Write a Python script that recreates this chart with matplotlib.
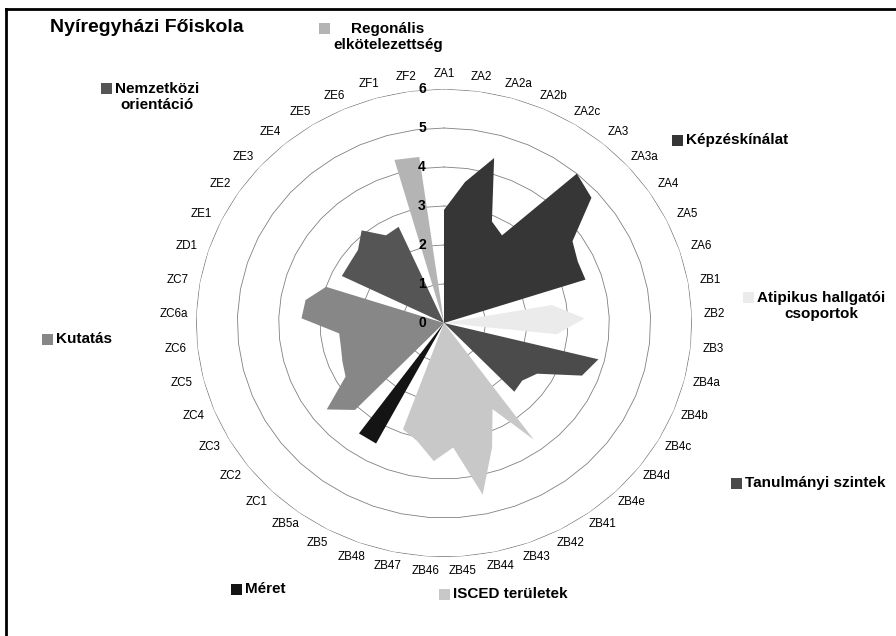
import numpy as np
import matplotlib.pyplot as plt
from matplotlib.patches import Rectangle
from matplotlib.lines import Line2D
from matplotlib import transforms

plt.rcParams['font.family'] = ['Liberation Sans', 'DejaVu Sans']

categories = ['ZA1', 'ZA2', 'ZA2a', 'ZA2b', 'ZA2c', 'ZA3', 'ZA3a', 'ZA4', 'ZA5', 'ZA6',
              'ZB1', 'ZB2', 'ZB3', 'ZB4a', 'ZB4b', 'ZB4c', 'ZB4d', 'ZB4e',
              'ZB41', 'ZB42', 'ZB43', 'ZB44', 'ZB45', 'ZB46', 'ZB47', 'ZB48',
              'ZB5', 'ZB5a', 'ZC1', 'ZC2', 'ZC3', 'ZC4', 'ZC5', 'ZC6', 'ZC6a', 'ZC7',
              'ZD1', 'ZE1', 'ZE2', 'ZE3', 'ZE4', 'ZE5', 'ZE6', 'ZF1', 'ZF2']

# values of each group, starting at the named category
kepzes = [2.9, 3.65, 4.4, 2.85, 2.65, 5.0, 4.8, 3.75, 3.6, 3.6]      # ZA1..ZA6
atipikus = [2.65, 3.4, 2.75]                                        # ZB1..ZB3
tanulmanyi = [3.85, 3.6, 2.6, 2.4, 2.45]                            # ZB4a..ZB4e
isced = [3.7, 2.5, 3.4, 4.5, 3.2, 3.55, 3.1, 2.9]                   # ZB41..ZB48
meret = [3.5, 3.5]                                                  # ZB5, ZB5a
kutatas = [3.1, 3.6, 2.75, 2.65, 2.57, 2.55, 3.45, 3.4, 3.0]        # ZC1..ZD1
nemzetkozi = [2.75, 2.75, 2.8, 3.1, 2.65, 2.7]                      # ZE1..ZE6
regionalis = [4.35, 4.3]                                            # ZF1, ZF2

series = [
    ('Képzéskínálat', 'ZA1', kepzes, '#363636'),
    ('Atipikus hallgatói\ncsoportok', 'ZB1', atipikus, '#ebebeb'),
    ('Tanulmányi szintek', 'ZB4a', tanulmanyi, '#4b4b4b'),
    ('ISCED területek', 'ZB41', isced, '#c8c8c8'),
    ('Méret', 'ZB5', meret, '#141414'),
    ('Kutatás', 'ZC1', kutatas, '#878787'),
    ('Nemzetközi\norientáció', 'ZE1', nemzetkozi, '#555555'),
    ('Regonális\nelkötelezettség', 'ZF1', regionalis, '#b4b4b4'),
]

W, H = 896, 636
fig = plt.figure(figsize=(W / 100, H / 100), dpi=100)

def fx(x):
    return x / W

def fy(y):
    return 1 - y / H

# polar plot, slightly wider than tall like the original
cx, cy, rx, ry = 444, 323, 248, 234
ax = fig.add_axes([fx(cx - rx), fy(cy + ry), 2 * rx / W, 2 * ry / H], projection='polar')
ax.set_aspect('auto')
ax.set_theta_zero_location('N')
ax.set_theta_direction(-1)
ax.set_ylim(0, 6)
ax.grid(False)
ax.spines['polar'].set_visible(False)
ax.set_xticks([])
ax.set_yticks([])
ax.patch.set_alpha(0)

n = len(categories)
theta = np.arange(n) * 2 * np.pi / n
theta_c = np.append(theta, theta[0])

for k in range(1, 7):
    ax.plot(theta_c, [k] * (n + 1), color='#808080', lw=0.6, zorder=1)

for name, start, vals, col in series:
    full = np.zeros(n)
    i0 = categories.index(start)
    full[i0:i0 + len(vals)] = vals
    ax.fill(theta_c, np.append(full, full[0]), color=col, lw=0, zorder=2)

# radial axis labels
off = transforms.offset_copy(ax.transData, fig=fig, x=-22, y=0, units='dots')
for k in range(0, 7):
    ax.text(0, k, str(k), transform=off, ha='center', va='center',
            fontsize=10, fontweight='bold', zorder=4)

# category labels
for t, lab in zip(theta, categories):
    ax.annotate(lab, xy=(t, 6.25), xytext=(np.sin(t) * 12, np.cos(t) * 5),
                textcoords='offset pixels', ha='center', va='center',
                fontsize=8.4, annotation_clip=False)

# legend entries placed around the chart
legend_pos = [
    (686, 140),
    (757, 306),
    (745, 483),
    (453, 594),
    (245, 589),
    (56, 339),
    (115, 97),
    (333, 37),
]
for (name, start, vals, col), (x, y) in zip(series, legend_pos):
    lines = name.split('\n')
    fig.text(fx(x), fy(y), name, ha='left', va='center', fontsize=11,
             fontweight='bold', multialignment='center', linespacing=1.2)
    sq_y = y - (9 if len(lines) > 1 else 0)
    fig.patches.append(Rectangle((fx(x - 14), fy(sq_y + 6)), 11 / W, 11 / H,
                                 transform=fig.transFigure, facecolor=col,
                                 edgecolor='none'))

fig.text(fx(50), fy(28), 'Nyíregyházi Főiskola', ha='left', va='center',
         fontsize=14, fontweight='bold')

# chart frame (only top and left edge fall inside the picture)
fig.add_artist(Line2D([fx(6), 1], [fy(9), fy(9)], color='black', lw=2))
fig.add_artist(Line2D([fx(6), fx(6)], [fy(9), 0], color='black', lw=2))

fig.savefig('out.png', dpi=100)
